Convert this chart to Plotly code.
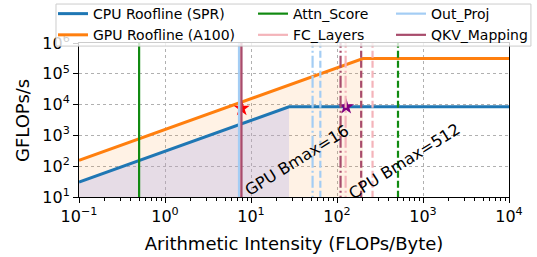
import plotly.graph_objects as go
import numpy as np

# ---- Roofline parameters ----
cpu_name = "CPU Roofline (SPR)"
gpu_name = "GPU Roofline (A100)"
cpu_bw = 307.0        # GB/s
cpu_peak = 8500.0     # GFLOPs/s
gpu_bw = 1555.0       # GB/s
gpu_peak = 312000.0   # GFLOPs/s

x_lo, x_hi = 0.1, 1e4
y_lo, y_hi = 10.0, 1e6

# ---- Operator arithmetic intensities (FLOPs/Byte) ----
op_names = ["Attn_Score", "FC_Layers", "Out_Proj", "QKV_Mapping"]
op_colors = ["#118a11", "#f4b4ba", "#a4cdf4", "#a84c6c"]
ai_base = [0.5, 7.5, 7.25, 7.75]          # solid lines
ai_gpu_bmax = [None, 126.0, 52.0, 110.0]   # dash-dot (GPU Bmax=16)
ai_cpu_bmax = [512.0, 259.0, 64.0, 191.0]  # dashed (CPU Bmax=512)

# ---- Operating points (stars) ----
star_x = [7.8, 128.0]
star_y = [7500.0, 8500.0]
star_colors = ["red", "purple"]

# ---- Tick labels ----
x_tickvals = [0.1, 1, 10, 100, 1000, 10000]
x_ticktext = ["10<sup>\u22121</sup>", "10<sup>0</sup>", "10<sup>1</sup>",
              "10<sup>2</sup>", "10<sup>3</sup>", "10<sup>4</sup>"]
y_tickvals = [10, 100, 1000, 10000, 100000, 1000000]
y_ticktext = ["10<sup>1</sup>", "10<sup>2</sup>", "10<sup>3</sup>",
              "10<sup>4</sup>", "10<sup>5</sup>", "10<sup>6</sup>"]

annot_texts = ["GPU Bmax=16", "CPU Bmax=512"]


def roof(bw, peak):
    knee = peak / bw
    xs = [x_lo, knee, x_hi]
    ys = [bw * x_lo, peak, peak]
    return knee, xs, ys


cpu_knee, cpu_x, cpu_y = roof(cpu_bw, cpu_peak)
gpu_knee, gpu_x, gpu_y = roof(gpu_bw, gpu_peak)

fig = go.Figure()

# memory-bound regions
fig.add_trace(go.Scatter(
    x=[x_lo, x_lo, gpu_knee, gpu_knee, x_lo],
    y=[1, gpu_bw * x_lo, gpu_peak, 1, 1],
    fill="toself", fillcolor="rgba(255,150,40,0.12)", line=dict(width=0),
    mode="lines", showlegend=False, hoverinfo="skip"))
fig.add_trace(go.Scatter(
    x=[x_lo, x_lo, cpu_knee, cpu_knee, x_lo],
    y=[1, cpu_bw * x_lo, cpu_peak, 1, 1],
    fill="toself", fillcolor="rgba(172,168,232,0.30)", line=dict(width=0),
    mode="lines", showlegend=False, hoverinfo="skip"))

# rooflines
fig.add_trace(go.Scatter(x=cpu_x, y=cpu_y, mode="lines", name=cpu_name,
                         line=dict(color="#1f77b4", width=3), legend="legend"))
fig.add_trace(go.Scatter(x=gpu_x, y=gpu_y, mode="lines", name=gpu_name,
                         line=dict(color="#ff7f0e", width=3), legend="legend"))

# operating points
for sx, sy, sc in zip(star_x, star_y, star_colors):
    fig.add_trace(go.Scatter(x=[sx], y=[sy], mode="markers", showlegend=False,
                             marker=dict(symbol="star", size=12, color=sc,
                                         line=dict(width=0))))

legend_of = {"Attn_Score": "legend2", "FC_Layers": "legend2",
             "Out_Proj": "legend3", "QKV_Mapping": "legend3"}

for name, col, a0, a1, a2 in zip(op_names, op_colors, ai_base, ai_gpu_bmax, ai_cpu_bmax):
    fig.add_trace(go.Scatter(x=[a0, a0], y=[y_lo / 10, y_hi * 10], mode="lines",
                             name=name, legend=legend_of[name], legendgroup=name,
                             line=dict(color=col, width=2.2)))
    if a1 is not None:
        fig.add_trace(go.Scatter(x=[a1, a1], y=[y_lo / 10, y_hi * 10], mode="lines",
                                 showlegend=False, legendgroup=name,
                                 line=dict(color=col, width=2.2, dash="12px,3px,2px,3px")))
    if a2 is not None:
        fig.add_trace(go.Scatter(x=[a2, a2], y=[y_lo / 10, y_hi * 10], mode="lines",
                                 showlegend=False, legendgroup=name,
                                 line=dict(color=col, width=2.2, dash="7px,3px")))

# rotated labels
fig.add_annotation(x=1.53, y=2.17, xref="x", yref="y", text=annot_texts[0],
                   showarrow=False, textangle=-32, font=dict(size=16, color="black"))
fig.add_annotation(x=2.78, y=2.14, xref="x", yref="y", text=annot_texts[1],
                   showarrow=False, textangle=-32, font=dict(size=16, color="black"))

font_family = "DejaVu Sans"
minor_x = [m * 10.0 ** e for e in range(-1, 4) for m in range(2, 10)]

# y-axis title as rotated text at the left edge
fig.add_annotation(x=-0.1326, y=0.5, xref="paper", yref="paper", text="GFLOPs/s",
                   showarrow=False, textangle=-90, xanchor="center", yanchor="middle",
                   font=dict(size=18, color="black", family=font_family))

axis_common = dict(
    type="log", showline=True, linecolor="black", linewidth=1, mirror=True,
    ticks="outside", ticklen=5, tickwidth=1, tickcolor="black",
    showgrid=True, gridcolor="#b0b0b0", griddash="dot", gridwidth=1,
    zeroline=False, tickfont=dict(size=16, color="black", family=font_family),
)

fig.update_xaxes(**axis_common, range=[np.log10(x_lo), np.log10(x_hi)],
                 tickmode="array", tickvals=x_tickvals, ticktext=x_ticktext,
                 minor=dict(tickmode="array", tickvals=minor_x, ticks="outside",
                            ticklen=3, tickcolor="black", showgrid=False),
                 title=dict(text="Arithmetic Intensity (FLOPs/Byte)",
                            font=dict(size=18, color="black", family=font_family),
                            standoff=12))
fig.update_yaxes(**axis_common, range=[np.log10(y_lo), np.log10(y_hi)],
                 tickmode="array", tickvals=y_tickvals, ticktext=y_ticktext)

leg_common = dict(yanchor="top", xanchor="left", bgcolor="rgba(0,0,0,0)",
                  borderwidth=0, font=dict(size=14, color="black", family=font_family),
                  tracegroupgap=0, orientation="v")
fig.update_layout(
    width=537, height=257,
    margin=dict(l=79, r=28, t=43, b=60, autoexpand=False),
    paper_bgcolor="white", plot_bgcolor="white",
    font=dict(family=font_family, color="black"),
    legend=dict(**leg_common, x=-0.0605, y=1.292),
    legend2=dict(**leg_common, x=0.4047, y=1.292),
    legend3=dict(**leg_common, x=0.7256, y=1.292),
    shapes=[dict(type="rect", xref="paper", yref="paper",
                 x0=-0.0535, x1=1.051, y0=0.98, y1=1.253, layer="above",
                 fillcolor="rgba(255,255,255,0.8)",
                 line=dict(color="#cccccc", width=1))],
)

fig.write_html("out.html", config={"displayModeBar": False},
               post_script="document.body.style.margin='0';")
